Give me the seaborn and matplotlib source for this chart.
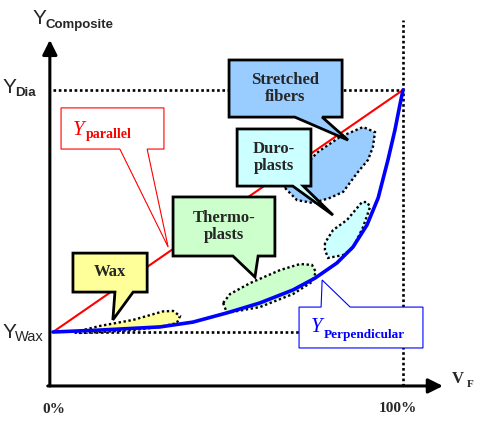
import numpy as np
import pandas as pd
import matplotlib
matplotlib.use("Agg")
import matplotlib.pyplot as plt
from matplotlib.patches import Polygon
import seaborn as sns

# fiber volume fraction V_F in %, composite property normalised: 0 = Y_Wax, 100 = Y_Dia
parallel_v = [0, 100]
parallel_y = [0, 100]

perp_v = [0, 13.4, 30.6, 40, 49.7, 59.1, 68.6, 74.9, 81.1, 85.7, 89.7, 92.9, 95.7, 97.7, 99.1, 100]
perp_y = [0, 0.8, 2.1, 4.1, 7.9, 12.0, 17.4, 22.3, 28.5, 35.1, 44.2, 55.4, 71.1, 83.5, 93.8, 100]

# material regions (outline points)
wax_v = [6.3, 13.4, 22.9, 31.4, 34.3, 36.3, 35.4, 30.6, 22.9, 13.4, 7.7]
wax_y = [0, 2.5, 5.0, 8.5, 8.7, 6.6, 3.7, 2.1, 0.8, 0, -0.4]

thermo_v = [48.6, 49.7, 59.1, 68.6, 74.0, 75.1, 74.0, 70.6, 64.9, 56.3, 50.6]
thermo_y = [12.0, 7.9, 10.3, 15.7, 20.7, 24.8, 27.7, 28.1, 25.6, 20.2, 15.7]

duro_v = [77.7, 77.7, 78.6, 82.9, 85.7, 88.6, 90.6, 89.7, 88.3, 84.0, 80.0]
duro_y = [36.8, 33.9, 30.6, 31.8, 34.7, 43.4, 51.7, 53.7, 53.7, 46.3, 42.1]

fiber_v = [66.3, 69.7, 74.3, 79.1, 82.9, 86.9, 90.0, 91.4, 92.0, 88.6, 82.0, 75.7, 72.0, 67.7]
fiber_y = [59.5, 54.5, 53.3, 55.4, 57.9, 65.7, 71.1, 76.4, 82.6, 84.7, 80.6, 74.4, 69.0, 62.8]

SERIF = "Liberation Serif"
SANS = "Liberation Sans"

sns.set_style("white")
plt.rcParams["font.family"] = ["Liberation Sans", "DejaVu Sans"]

fig = plt.figure(figsize=(4.81, 4.29), dpi=100)
ax = fig.add_axes([0, 0, 1, 1])

dots = (0, (1.0, 1.0))
# reference dotted lines
ax.plot([0, 100], [100, 100], color="black", lw=1.9, linestyle=dots, zorder=1)
ax.plot([6, 100], [0, 0], color="black", lw=1.9, linestyle=dots, zorder=1)
ax.plot([100, 100], [-22.3, 129], color="black", lw=1.9, linestyle=dots, zorder=1)

# axes with arrows
ax.annotate("", xy=(-0.9, 120.7), xytext=(-0.9, -22.3),
            arrowprops=dict(arrowstyle="-|>", lw=2.2, color="black", mutation_scale=22,
                            shrinkA=0, shrinkB=0), zorder=4)
ax.annotate("", xy=(111.4, -22.3), xytext=(-1.5, -22.3),
            arrowprops=dict(arrowstyle="-|>", lw=2.2, color="black", mutation_scale=22,
                            shrinkA=0, shrinkB=0), zorder=4)

# material regions
regions = [(wax_v, wax_y, "#FFFF99"), (thermo_v, thermo_y, "#CCFFCC"),
           (fiber_v, fiber_y, "#99CCFF"), (duro_v, duro_y, "#CCFFFF")]
for vv, yy, col in regions:
    ax.add_patch(Polygon(np.column_stack([vv, yy]), closed=True, facecolor=col,
                         edgecolor="black", lw=1.7, linestyle=(0, (1.0, 1.1)), zorder=2))

# bounds
df_par = pd.DataFrame({"V": parallel_v, "Y": parallel_y})
df_perp = pd.DataFrame({"V": perp_v, "Y": perp_y})
sns.lineplot(data=df_par, x="V", y="Y", color="#FF0000", lw=1.5, ax=ax, zorder=3)
sns.lineplot(data=df_perp, x="V", y="Y", color="#0000FF", lw=2.6, ax=ax, zorder=3, sort=False)
ax.set_xlim(-53 / 3.5, 428 / 3.5)
ax.set_ylim(-97 / 2.42, 332 / 2.42)
ax.axis("off")

# callout boxes
def callout(pts, face, edge, lw):
    ax.add_patch(Polygon(pts, closed=True, facecolor=face, edgecolor=edge, lw=lw,
                         joinstyle="miter", zorder=5))

callout([(50.3, 88.8), (69.1, 88.8), (84.3, 79.3), (76.9, 88.8), (82.6, 88.8),
         (82.6, 112.4), (50.3, 112.4)], "#99CCFF", "black", 2)
callout([(52.6, 60.3), (68.5, 60.3), (80.0, 48.3), (71.5, 60.3), (73.7, 60.3),
         (73.7, 83.9), (52.6, 83.9)], "#CCFFFF", "black", 2)
callout([(34.3, 31.4), (51.4, 31.4), (57.7, 22.7), (58.6, 31.4), (63.4, 31.4),
         (63.4, 55.8), (34.3, 55.8)], "#CCFFCC", "black", 2)
callout([(5.7, 16.5), (17.7, 16.5), (17.1, 5.0), (22.9, 16.5), (26.9, 16.5),
         (26.9, 32.6), (5.7, 32.6)], "#FFFF99", "black", 2)
callout([(2.3, 75.6), (19.1, 75.6), (32.9, 35.1), (26.9, 75.6), (31.7, 75.6),
         (31.7, 92.6), (2.3, 92.6)], "white", "#FF0000", 0.8)
callout([(70.3, -6.6), (105.7, -6.6), (105.7, 10.3), (84.9, 10.3), (76.9, 21.5),
         (76.6, 10.3), (70.3, 10.3)], "white", "#0000FF", 0.8)

box_kw = dict(family=SERIF, fontweight="bold", fontsize=12, ha="center", va="center",
              linespacing=1.15, zorder=6)
ax.text(66.4, 100.6, "Stretched\nfibers", **box_kw)
ax.text(63.1, 72.1, "Duro-\nplasts", **box_kw)
ax.text(48.9, 43.6, "Thermo-\nplasts", **box_kw)
ax.text(16.3, 24.6, "Wax", **box_kw)

ax.text(5.7, 81.4, "Y", family=SERIF, style="italic", fontsize=15, color="#FF0000",
        ha="left", va="baseline", zorder=6)
ax.text(9.4, 80.0, "parallel", family=SERIF, fontweight="bold", fontsize=10,
        color="#FF0000", ha="left", va="baseline", zorder=6)
ax.text(73.7, 0.0, "Y", family=SERIF, style="italic", fontsize=15, color="#0000FF",
        ha="left", va="baseline", zorder=6)
ax.text(77.3, -2.5, "Perpendicular", family=SERIF, fontweight="bold", fontsize=9.5,
        color="#0000FF", ha="left", va="baseline", zorder=6)

# axis labels
ax.text(-5.9, 127.3, "Y", family=SANS, fontsize=15, ha="left", va="baseline")
ax.text(-2.1, 125.8, "Composite", family=SANS, fontweight="bold", fontsize=9.5,
        ha="left", va="baseline")
ax.text(-14.4, 98.8, "Y", family=SANS, fontsize=15, ha="left", va="baseline")
ax.text(-10.9, 97.6, "Dia", family=SANS, fontweight="bold", fontsize=9.5,
        ha="left", va="baseline")
ax.text(-14.4, -2.5, "Y", family=SANS, fontsize=15, ha="left", va="baseline")
ax.text(-10.9, -3.6, "Wax", family=SANS, fontsize=10.5, ha="left", va="baseline")

ax.text(0.3, -33.5, "0%", family=SERIF, fontweight="bold", fontsize=11,
        ha="center", va="baseline")
ax.text(98.6, -33.1, "100%", family=SERIF, fontweight="bold", fontsize=11,
        ha="center", va="baseline")
ax.text(114.0, -21.1, "V", family=SERIF, fontweight="bold", fontsize=12,
        ha="left", va="baseline")
ax.text(118.3, -22.7, "F", family=SERIF, fontweight="bold", fontsize=8,
        ha="left", va="baseline")

fig.savefig("out.png", dpi=100)
